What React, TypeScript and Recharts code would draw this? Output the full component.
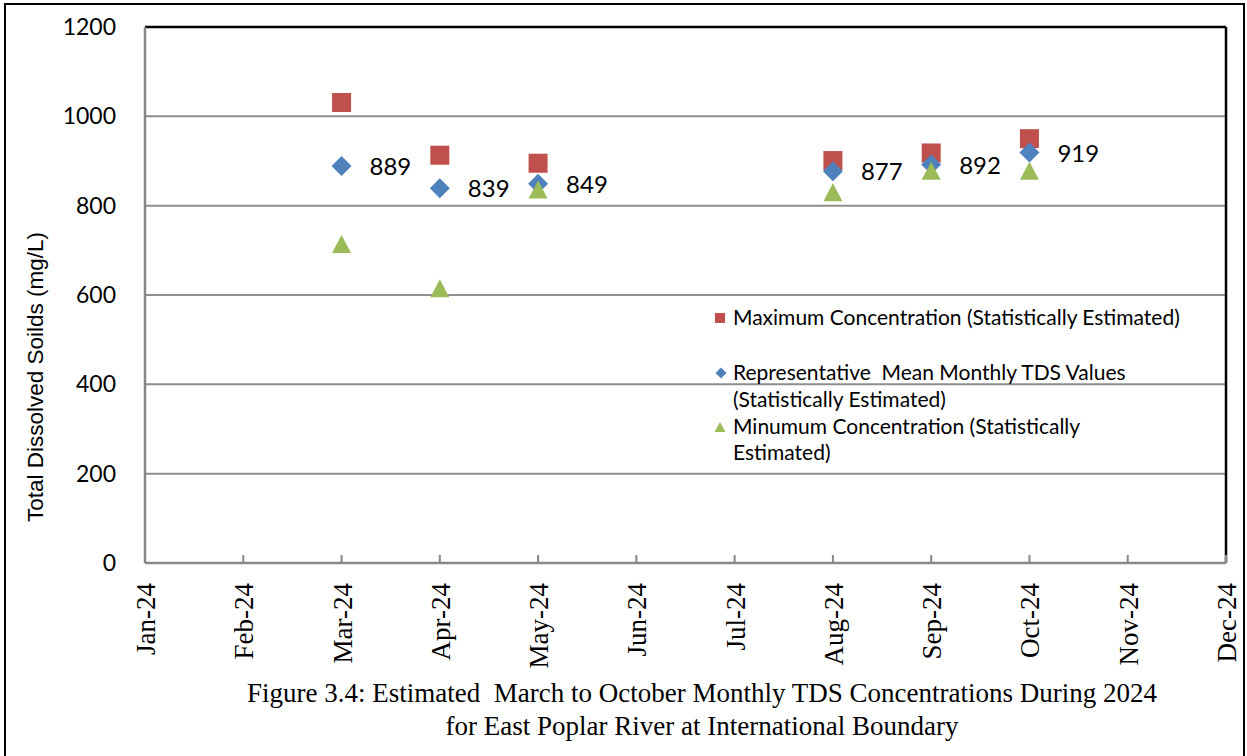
import React from 'react';
import { ScatterChart, Scatter, XAxis, YAxis, CartesianGrid, ReferenceLine } from 'recharts';

const months = ['Jan-24', 'Feb-24', 'Mar-24', 'Apr-24', 'May-24', 'Jun-24', 'Jul-24', 'Aug-24', 'Sep-24', 'Oct-24', 'Nov-24', 'Dec-24'];
const sampleMonths = ['Mar-24', 'Apr-24', 'May-24', 'Aug-24', 'Sep-24', 'Oct-24'];
const maxConcentration = [1031, 913, 895, 901, 918, 950];
const meanTds = [889, 839, 849, 877, 892, 919];
const minConcentration = [713, 614, 835, 829, 877, 877];
const yTicks = [0, 200, 400, 600, 800, 1000, 1200];

const legendLabels = [
  ['Maximum Concentration (Statistically Estimated)'],
  ['Representative  Mean Monthly TDS Values', '(Statistically Estimated)'],
  ['Minumum Concentration (Statistically', 'Estimated)'],
];
const captionLines = [
  'Figure 3.4: Estimated  March to October Monthly TDS Concentrations During 2024',
  'for East Poplar River at International Boundary',
];
const yAxisTitle = 'Total Dissolved Soilds (mg/L)';

const RED = '#C0504D';
const BLUE = '#4F81BD';
const GREEN = '#9BBB59';
const SANS = 'Lato, "Liberation Sans", Arial, sans-serif';
const SERIF = '"Liberation Serif", "Times New Roman", serif';

const toPoints = (vals: number[]) =>
  sampleMonths.map((m, i) => ({ x: months.indexOf(m), y: vals[i] }));

const maxData = toPoints(maxConcentration);
const meanData = toPoints(meanTds);
const minData = toPoints(minConcentration);

const SquareShape = (p: any) => (
  <rect x={p.cx - 9.5} y={p.cy - 9.5} width={19} height={19} fill={RED} />
);

const DiamondShape = (p: any) => (
  <g>
    <polygon
      points={`${p.cx},${p.cy - 10} ${p.cx + 10},${p.cy} ${p.cx},${p.cy + 10} ${p.cx - 10},${p.cy}`}
      fill={BLUE}
    />
    <text x={p.cx + 28} y={p.cy + 9} fontFamily={SANS} fontSize={24} fill="#000">
      {p.payload ? p.payload.y : ''}
    </text>
  </g>
);

const TriangleShape = (p: any) => (
  <polygon
    points={`${p.cx},${p.cy - 9.5} ${p.cx + 9.5},${p.cy + 8.5} ${p.cx - 9.5},${p.cy + 8.5}`}
    fill={GREEN}
  />
);

const XTick = (p: any) => {
  const { x, y, payload } = p;
  const label = months[payload.value] ?? '';
  return (
    <g>
      <line x1={x} y1={y} x2={x} y2={y - 8} stroke="#878787" strokeWidth={2} />
      <text
        x={x}
        y={y + 20}
        transform={`rotate(-90, ${x}, ${y + 20})`}
        textAnchor="end"
        dy={10}
        fontFamily={SERIF}
        fontSize={27}
        fill="#000"
      >
        {label}
      </text>
    </g>
  );
};

const YTitle = () => (
  <text
    x={43}
    y={377}
    transform="rotate(-90, 43, 377)"
    textAnchor="middle"
    fontFamily='"Liberation Sans", Arial, sans-serif'
    fontSize={22.5}
    fill="#000"
  >
    {yAxisTitle}
  </text>
);

export default function App() {
  const legendBaselines = [[325], [380, 407], [434, 460]];
  return (
    <div style={{ position: 'absolute', left: 0, top: 0, width: 1247, height: 756, background: '#fff', overflow: 'hidden' }}>
      <ScatterChart width={1247} height={756} margin={{ top: 27, right: 21, bottom: 0, left: 0 }}>
        <CartesianGrid vertical={false} stroke="#8e8e8e" strokeWidth={2} />
        <XAxis
          type="number"
          dataKey="x"
          domain={[0, 11]}
          ticks={months.map((_, i) => i)}
          interval={0}
          height={193}
          tickSize={0}
          tickMargin={0}
          tickLine={false}
          axisLine={{ stroke: '#878787', strokeWidth: 2.5 }}
          tick={<XTick />}
        />
        <YAxis
          type="number"
          dataKey="y"
          domain={[0, 1200]}
          ticks={yTicks}
          interval={0}
          width={145}
          tickSize={0}
          tickMargin={29}
          tickLine={false}
          axisLine={{ stroke: '#878787', strokeWidth: 2.5 }}
          tick={{ fontFamily: SANS, fontSize: 23, fill: '#000' }}
          label={{ content: <YTitle /> }}
        />
        <ReferenceLine y={1200} stroke="#000" strokeWidth={2.5} />
        <ReferenceLine x={11} stroke="#000" strokeWidth={2.5} />
        <Scatter name="Maximum Concentration" data={maxData} shape={SquareShape} isAnimationActive={false} />
        <Scatter name="Representative Mean" data={meanData} shape={DiamondShape} isAnimationActive={false} />
        <Scatter name="Minimum Concentration" data={minData} shape={TriangleShape} isAnimationActive={false} />
      </ScatterChart>
      <svg
        width={1247}
        height={756}
        style={{ position: 'absolute', left: 0, top: 0, pointerEvents: 'none' }}
      >
        <rect x={715} y={313} width={10} height={10} fill={RED} />
        <polygon points="721,367.5 726.5,373 721,378.5 715.5,373" fill={BLUE} />
        <polygon points="720,422 725.5,432 714.5,432" fill={GREEN} />
        {legendLabels.map((lines, i) =>
          lines.map((t, j) => (
            <text
              key={`${i}-${j}`}
              x={733}
              y={legendBaselines[i][j]}
              fontFamily={SANS}
              fontSize={21}
              fill="#000"
              style={{ whiteSpace: 'pre' }}
            >
              {t}
            </text>
          ))
        )}
        {captionLines.map((t, i) => (
          <text
            key={i}
            x={702}
            y={702 + i * 33}
            textAnchor="middle"
            fontFamily={SERIF}
            fontSize={27}
            fill="#000"
            style={{ whiteSpace: 'pre' }}
          >
            {t}
          </text>
        ))}
        <rect x={5} y={4} width={1239} height={800} fill="none" stroke="#000" strokeWidth={2} />
      </svg>
    </div>
  );
}
